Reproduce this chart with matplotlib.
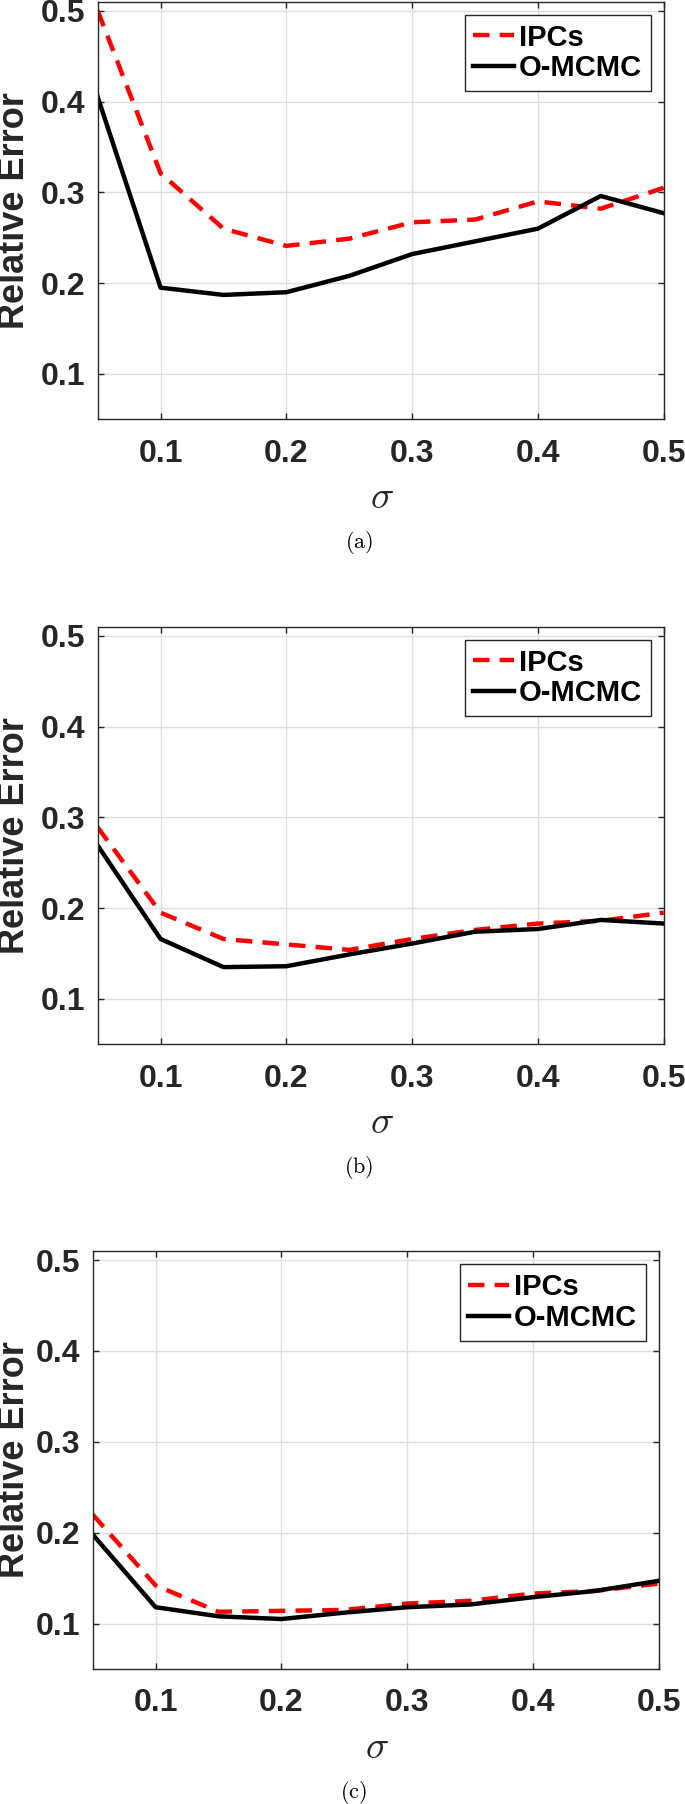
import matplotlib
matplotlib.use("Agg")
import matplotlib.pyplot as plt

plt.rcParams['font.family'] = ['Liberation Sans', 'DejaVu Sans']
plt.rcParams['font.weight'] = 'bold'
plt.rcParams['mathtext.fontset'] = 'cm'

sigma = [0.05, 0.10, 0.15, 0.20, 0.25, 0.30, 0.35, 0.40, 0.45, 0.50]

ipcs_a = [0.500, 0.321, 0.260, 0.241, 0.249, 0.267, 0.270, 0.290, 0.282, 0.305]
omcmc_a = [0.405, 0.195, 0.187, 0.190, 0.208, 0.232, 0.246, 0.260, 0.296, 0.277]

ipcs_b = [0.289, 0.195, 0.166, 0.160, 0.154, 0.166, 0.176, 0.183, 0.186, 0.195]
omcmc_b = [0.269, 0.166, 0.135, 0.136, 0.149, 0.161, 0.174, 0.177, 0.187, 0.183]

ipcs_c = [0.220, 0.142, 0.113, 0.114, 0.115, 0.122, 0.125, 0.133, 0.136, 0.144]
omcmc_c = [0.198, 0.118, 0.108, 0.105, 0.112, 0.118, 0.121, 0.129, 0.136, 0.147]

ticks = [0.1, 0.2, 0.3, 0.4, 0.5]
tick_labels = ['0.1', '0.2', '0.3', '0.4', '0.5']
series_names = ['IPCs', 'O-MCMC']
captions = ['(a)', '(b)', '(c)']

W, H = 685, 1804
fig = plt.figure(figsize=(W / 100, H / 100), dpi=100)

# pixel boxes of each panel: left, top, right, bottom
boxes = [(97.7, 1.7, 663.7, 419.3),
         (97.7, 626.7, 663.7, 1044.3),
         (92.7, 1251.0, 658.7, 1669.0)]
data = [(ipcs_a, omcmc_a), (ipcs_b, omcmc_b), (ipcs_c, omcmc_c)]
dark = '#262626'

for (l, t, r, b), (ipcs, omcmc), cap in zip(boxes, data, captions):
    ax = fig.add_axes([l / W, 1 - b / H, (r - l) / W, (b - t) / H])
    ax.plot(sigma, ipcs, color='#ff0000', lw=3.2, dashes=(3.7, 2.3), label=series_names[0])
    ax.plot(sigma, omcmc, color='black', lw=3.2, label=series_names[1])
    ax.set_xlim(0.05, 0.5)
    ax.set_ylim(0.05, 0.51)
    ax.set_xticks(ticks)
    ax.set_xticklabels(tick_labels)
    ax.set_yticks(ticks)
    ax.set_yticklabels(tick_labels)
    ax.grid(True, color='#dedede', lw=1.0)
    ax.set_axisbelow(True)
    ax.tick_params(direction='in', length=4.5, width=1, top=True, right=True,
                   labelsize=23, colors=dark)
    ax.tick_params(axis='x', pad=14)
    ax.tick_params(axis='y', pad=9)
    for s in ax.spines.values():
        s.set_color(dark)
        s.set_linewidth(1.0)
    leg = ax.legend(loc='upper right', fontsize=21, handlelength=1.4, handletextpad=0.15,
                    borderpad=0.3, labelspacing=0.1, borderaxespad=0.45,
                    fancybox=False, framealpha=1, edgecolor=dark)
    leg.get_frame().set_linewidth(1.0)
    for txt in leg.get_texts():
        txt.set_fontweight('bold')

    cy = (t + b) / 2
    fig.text(15 / W, 1 - cy / H, 'Relative Error', rotation=90, ha='center', va='center',
             fontsize=26, fontweight='bold', color=dark)
    cx = (l + r) / 2
    fig.text((cx + 1) / W, 1 - (b + 79) / H, r'$\sigma$', ha='center', va='center',
             fontsize=28, color=dark)
    fig.text((cx - 22) / W, 1 - (b + 123) / H, r'$\mathrm{' + cap + '}$', ha='center', va='center',
             fontsize=16, color='black')

fig.savefig('out.png', dpi=100)
